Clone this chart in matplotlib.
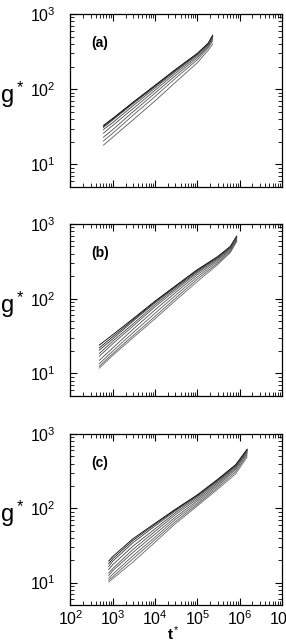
import numpy as np
import matplotlib
matplotlib.use('Agg')
import matplotlib.pyplot as plt
from matplotlib.ticker import LogLocator, NullFormatter

# data (t* on x, g* on y), curves top to bottom
xa = [600, 1000, 3000, 1e4, 3e4, 1e5, 1.8e5, 2.3e5]
ga = [[33, 41, 67, 113, 182, 300, 410, 525],
      [32, 40, 66, 111, 180, 298, 405, 515],
      [31, 39, 64, 109, 177, 294, 400, 505],
      [29, 36, 60, 104, 171, 287, 392, 495],
      [26, 33, 55, 97, 162, 276, 382, 480],
      [23, 29, 50, 89, 151, 262, 370, 460],
      [20.5, 26, 45, 80, 139, 246, 355, 440],
      [18, 23, 39, 70, 123, 225, 330, 400]]

xb = [480, 1000, 3000, 1e4, 3e4, 1e5, 3e5, 6e5, 8.5e5]
gb = [[24, 33, 54, 93, 148, 245, 365, 500, 690],
      [22, 31, 52, 91, 146, 242, 362, 495, 680],
      [20.5, 29, 50, 88, 142, 238, 358, 490, 670],
      [18.5, 27, 46, 83, 136, 230, 350, 480, 660],
      [17, 25, 43, 78, 129, 222, 340, 470, 650],
      [15, 22, 39, 71, 120, 210, 328, 455, 630],
      [13.5, 20, 35, 64, 110, 196, 313, 440, 610],
      [12.5, 18.5, 32, 58, 101, 183, 298, 425, 595],
      [11.8, 17.5, 30, 54, 94, 170, 285, 415, 580]]

xc = [800, 1000, 3000, 1e4, 3e4, 1e5, 3e5, 8e5, 1.5e6]
gc = [[19.5, 22.5, 39, 63, 97, 152, 245, 385, 625],
      [18, 21, 37, 61, 95, 150, 242, 382, 615],
      [16.5, 19.5, 34.5, 58, 92, 146, 237, 376, 605],
      [15, 17.5, 31, 53, 87, 140, 229, 368, 595],
      [13.5, 15.5, 28, 49, 82, 133, 220, 358, 580],
      [12.5, 14.5, 25.5, 45, 76, 126, 210, 345, 565],
      [11.5, 13, 23, 41, 71, 119, 200, 330, 545],
      [10.8, 12, 21, 38, 66, 113, 190, 310, 520],
      [10.2, 11.3, 19, 35, 62, 108, 180, 290, 490]]

panel_labels = ['(a)', '(b)', '(c)']

plt.rcParams['font.family'] = 'Liberation Sans'
plt.rcParams['mathtext.fontset'] = 'custom'
plt.rcParams['mathtext.rm'] = 'Liberation Sans'
plt.rcParams['mathtext.it'] = 'Liberation Sans:italic'
plt.rcParams['mathtext.bf'] = 'Liberation Sans:bold'

fig = plt.figure(figsize=(2.86, 6.42), dpi=100)

# axes boxes in figure fractions (left, bottom, width, height)
boxes = [[0.2465, 0.7087, 0.7395, 0.2695],
         [0.2465, 0.3832, 0.7395, 0.2680],
         [0.2465, 0.0576, 0.7395, 0.2664]]
shades = ['0.0', '0.1', '0.2', '0.25', '0.3', '0.3', '0.35', '0.35', '0.4']

for i, (x, curves) in enumerate([(xa, ga), (xb, gb), (xc, gc)]):
  ax = fig.add_axes(boxes[i])
  for k, g in enumerate(curves):
    ax.loglog(x, g, color=shades[k], lw=0.6)
  ax.set_xlim(1e2, 1e7)
  ax.set_ylim(5, 1e3)
  ax.xaxis.set_major_locator(LogLocator(base=10, numticks=10))
  ax.xaxis.set_minor_locator(LogLocator(base=10, subs=np.arange(2, 10), numticks=20))
  ax.yaxis.set_major_locator(LogLocator(base=10, numticks=10))
  ax.yaxis.set_minor_locator(LogLocator(base=10, subs=np.arange(2, 10), numticks=20))
  ax.xaxis.set_minor_formatter(NullFormatter())
  ax.yaxis.set_minor_formatter(NullFormatter())
  ax.tick_params(which='both', direction='in', top=True, right=True)
  ax.tick_params(which='major', length=5, width=0.8, labelsize=11.5)
  ax.tick_params(axis='y', which='major', pad=11)
  ax.tick_params(axis='x', which='major', pad=3)
  ax.tick_params(which='minor', length=3, width=0.6)
  for s in ax.spines.values():
    s.set_linewidth(0.9)
  if i < 2:
    ax.tick_params(labelbottom=False)
  ax.text(0.1, 0.83, panel_labels[i], transform=ax.transAxes, fontsize=10,
          fontweight='bold', va='center')
  ax.text(-0.275, 0.53, 'g$^*$', transform=ax.transAxes, fontsize=17,
          ha='center', va='center')

fig.text(173/286, 1 - 634/642, 't$^*$', fontsize=11, fontweight='bold',
         ha='center', va='center')

fig.savefig('out.png', dpi=100)
